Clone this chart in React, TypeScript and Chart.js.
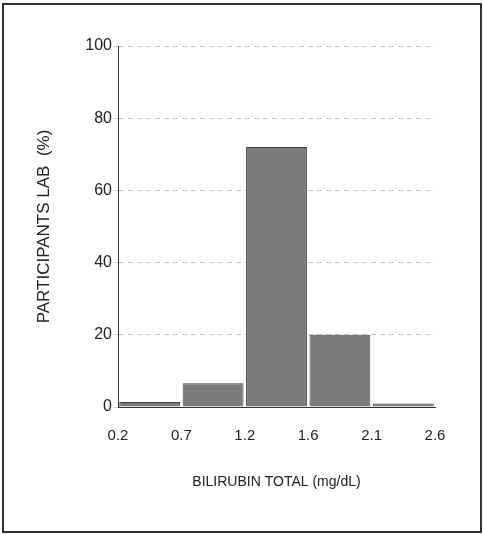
import { useEffect, useRef } from "react"
import { Chart, registerables } from "chart.js"

Chart.register(...registerables)

// bin edges (mg/dL) and percent of participant labs in each bin
const binEdges = ["0.2", "0.7", "1.2", "1.6", "2.1", "2.6"]
const binCenters = [0.5, 1.5, 2.5, 3.5, 4.5]
const percents = [1.4, 6.6, 72, 20, 1]
const yTicks = [0, 20, 40, 60, 80, 100]

export default function App() {
  const chartRef = useRef<HTMLCanvasElement>(null)
  const chartInstance = useRef<Chart | null>(null)

  useEffect(() => {
    document.body.style.margin = "0"
    if (!chartRef.current) return
    const ctx = chartRef.current.getContext("2d")
    if (!ctx) return
    if (chartInstance.current) chartInstance.current.destroy()

    chartInstance.current = new Chart(ctx, {
      type: "bar",
      data: {
        datasets: [
          {
            data: binCenters.map((x, i) => ({ x, y: percents[i] })),
            backgroundColor: "#7b7b7b",
            borderColor: "#444",
            borderWidth: 1,
            barPercentage: 1,
            categoryPercentage: 0.96,
          },
        ],
      },
      options: {
        animation: false,
        responsive: false,
        layout: { padding: { left: 30, right: 49, top: 46, bottom: 40 } },
        plugins: { legend: { display: false }, tooltip: { enabled: false } },
        scales: {
          x: {
            type: "linear",
            min: 0,
            max: 5,
            offset: false,
            afterBuildTicks: (s: any) => {
              s.ticks = binEdges.map((_, i) => ({ value: i }))
            },
            afterFit: (s: any) => {
              s.height = 88
            },
            ticks: {
              callback: (v: any) => binEdges[v as number],
              color: "#222",
              font: { family: "Liberation Sans", size: 15 },
              padding: 12,
            },
            grid: { display: false },
            border: { color: "#333" },
            title: {
              display: true,
              text: "BILIRUBIN TOTAL (mg/dL)",
              color: "#222",
              font: { family: "Liberation Sans", size: 14 },
              padding: { top: 14 },
            },
          },
          y: {
            min: 0,
            max: 100,
            afterBuildTicks: (s: any) => {
              s.ticks = yTicks.map((v) => ({ value: v }))
            },
            afterFit: (s: any) => {
              s.width = 88
            },
            ticks: {
              color: "#222",
              font: { family: "Liberation Sans", size: 16 },
              padding: 2,
            },
            grid: { color: "#c8c8c8", tickLength: 4 },
            border: { color: "#333", dash: [5, 4] },
            title: {
              display: true,
              text: "PARTICIPANTS LAB  (%)",
              color: "#222",
              font: { family: "Liberation Sans", size: 17 },
              padding: { bottom: 14 },
            },
          },
        },
      },
    })

    return () => {
      if (chartInstance.current) chartInstance.current.destroy()
    }
  }, [])

  return (
    <div style={{ position: "relative", width: 484, height: 535, background: "#fff" }}>
      <canvas ref={chartRef} width={484} height={535} />
      <div
        style={{
          position: "absolute",
          left: 2,
          top: 3,
          width: 476,
          height: 526,
          border: "2px solid #333",
          pointerEvents: "none",
        }}
      />
    </div>
  )
}
